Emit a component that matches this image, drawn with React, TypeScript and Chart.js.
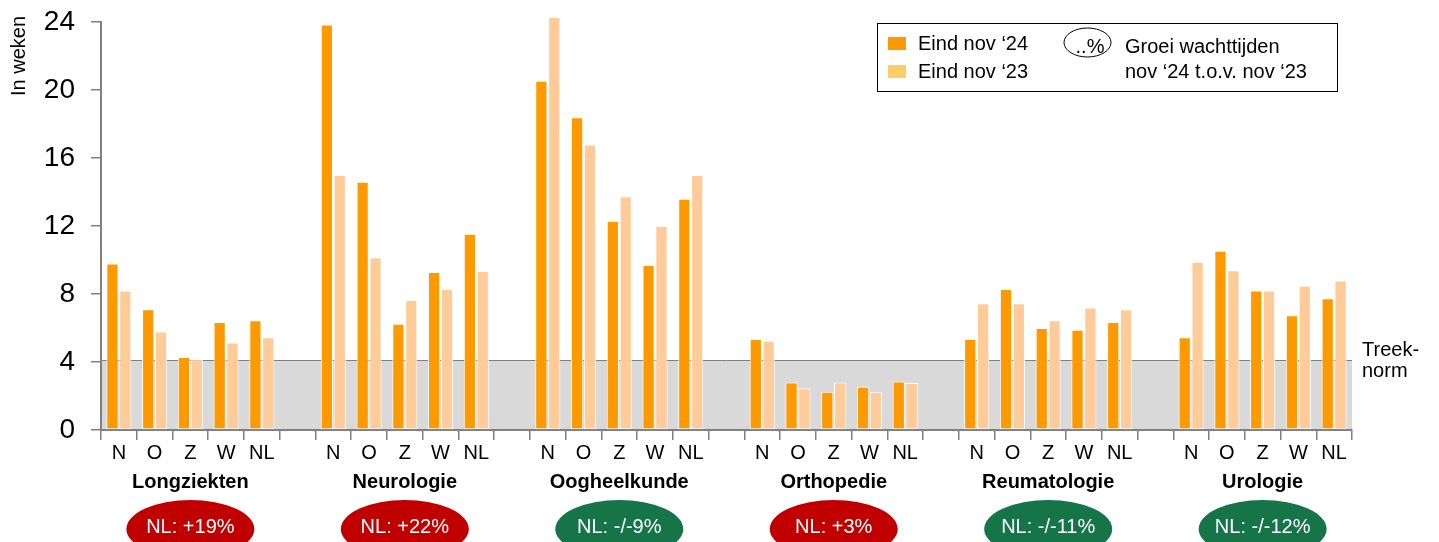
import { useEffect, useRef } from 'react';
import { Chart, registerables } from 'chart.js';

Chart.register(...registerables);

const specialties = ['Longziekten', 'Neurologie', 'Oogheelkunde', 'Orthopedie', 'Reumatologie', 'Urologie'];
const regions = ['N', 'O', 'Z', 'W', 'NL'];
const nov24Values = [
  9.8, 7.1, 4.3, 6.35, 6.45,
  23.85, 14.6, 6.25, 9.3, 11.55,
  20.55, 18.4, 12.3, 9.7, 13.6,
  5.35, 2.8, 2.25, 2.55, 2.85,
  5.35, 8.3, 6.0, 5.9, 6.35,
  5.45, 10.55, 8.2, 6.75, 7.75,
];
const nov23Values = [
  8.2, 5.8, 4.15, 5.15, 5.45,
  15.0, 10.15, 7.65, 8.3, 9.35,
  24.3, 16.8, 13.75, 12.0, 15.0,
  5.25, 2.45, 2.8, 2.25, 2.77,
  7.45, 7.45, 6.45, 7.2, 7.1,
  9.9, 9.4, 8.2, 8.5, 8.8,
];
const growthLabels = ['NL: +19%', 'NL: +22%', 'NL: -/-9%', 'NL: +3%', 'NL: -/-11%', 'NL: -/-12%'];
const treeknorm = 4.14;
const yMax = 24;
const yStep = 4;
const seriesLabels = ['Eind nov ‘24', 'Eind nov ‘23'];
const growthLegend = ['Groei wachttijden', 'nov ‘24 t.o.v. nov ‘23'];
const growthSymbol = '..%';
const yTitle = 'In weken';
const normLabel = ['Treek-', 'norm'];

const DARK = '#FF9900';
const LIGHT = '#FFCC99';
const LEGEND_LIGHT = '#FFCC66';
const RED = '#C00000';
const GREEN = '#157549';
const AXIS = '#808080';
const FONT = '"Liberation Sans", Arial, sans-serif';

const xLabels: string[] = [];
const data24: (number | null)[] = [];
const data23: (number | null)[] = [];
specialties.forEach((_, gi) => {
  regions.forEach((r, ri) => {
    xLabels.push(r);
    data24.push(nov24Values[gi * regions.length + ri]);
    data23.push(nov23Values[gi * regions.length + ri]);
  });
  if (gi < specialties.length - 1) {
    xLabels.push('');
    data24.push(null);
    data23.push(null);
  }
});

const decorPlugin = {
  id: 'decor',
  beforeDatasetsDraw(chart: any) {
    const { ctx, chartArea, scales } = chart;
    const y = scales.y;
    const top = Math.round(y.getPixelForValue(treeknorm)) + 0.5;
    const bottom = y.getPixelForValue(0);
    ctx.save();
    ctx.fillStyle = '#D9D9D9';
    ctx.fillRect(chartArea.left + 1, top, chartArea.right - chartArea.left - 1, bottom - top - 1);
    ctx.strokeStyle = AXIS;
    ctx.lineWidth = 1;
    ctx.beginPath();
    ctx.moveTo(chartArea.left, top);
    ctx.lineTo(chartArea.right, top);
    ctx.stroke();
    ctx.restore();
  },
  afterDraw(chart: any) {
    const { ctx, scales, chartArea } = chart;
    const x = scales.x;
    ctx.save();
    // y title
    ctx.fillStyle = '#000';
    ctx.font = `20px ${FONT}`;
    ctx.textAlign = 'center';
    ctx.textBaseline = 'alphabetic';
    ctx.save();
    ctx.translate(25, 56);
    ctx.rotate(-Math.PI / 2);
    ctx.fillText(yTitle, 0, 0);
    ctx.restore();

    // Treeknorm label
    ctx.textAlign = 'left';
    ctx.font = `20px ${FONT}`;
    ctx.fillText(normLabel[0], chartArea.right + 10, 356);
    ctx.fillText(normLabel[1], chartArea.right + 10, 377);

    // group labels + badges
    specialties.forEach((s, gi) => {
      const cx = x.getPixelForValue(gi * (regions.length + 1) + 2);
      ctx.fillStyle = '#000';
      ctx.font = `bold 20px ${FONT}`;
      ctx.textAlign = 'center';
      ctx.fillText(s, cx, 488);
      const lbl = growthLabels[gi];
      ctx.fillStyle = lbl.includes('+') ? RED : GREEN;
      ctx.beginPath();
      ctx.ellipse(cx, 529, 64, 29, 0, 0, Math.PI * 2);
      ctx.fill();
      ctx.fillStyle = '#fff';
      ctx.font = `20px ${FONT}`;
      ctx.fillText(lbl, cx, 533);
    });

    // legend box
    ctx.strokeStyle = '#000';
    ctx.lineWidth = 1;
    ctx.strokeRect(877.5, 23.5, 460, 68);
    ctx.fillStyle = DARK;
    ctx.fillRect(888, 37, 18, 13);
    ctx.fillStyle = LEGEND_LIGHT;
    ctx.fillRect(888, 65, 18, 13);
    ctx.fillStyle = '#000';
    ctx.textAlign = 'left';
    ctx.font = `20px ${FONT}`;
    ctx.fillText(seriesLabels[0], 918, 50);
    ctx.fillText(seriesLabels[1], 918, 78);
    ctx.beginPath();
    ctx.ellipse(1087.5, 42.5, 23.5, 14.5, 0, 0, Math.PI * 2);
    ctx.stroke();
    ctx.textAlign = 'center';
    ctx.font = `20px ${FONT}`;
    ctx.fillText(growthSymbol, 1090, 53);
    ctx.textAlign = 'left';
    ctx.font = `20px ${FONT}`;
    ctx.fillText(growthLegend[0], 1125, 53);
    ctx.fillText(growthLegend[1], 1125, 78);
    ctx.restore();
  },
};

export default function App() {
  const ref = useRef<HTMLCanvasElement | null>(null);
  useEffect(() => {
    if (!ref.current) return;
    const chart = new Chart(ref.current, {
      type: 'bar',
      data: {
        labels: xLabels,
        datasets: [
          {
            label: seriesLabels[0],
            data: data24,
            backgroundColor: DARK,
            borderColor: '#FFFFFF',
            borderWidth: 1,
            borderSkipped: false,
            categoryPercentage: 0.72,
            barPercentage: 0.95,
            clip: false,
          },
          {
            label: seriesLabels[1],
            data: data23,
            backgroundColor: LIGHT,
            borderColor: '#FFFFFF',
            borderWidth: 1,
            borderSkipped: false,
            categoryPercentage: 0.72,
            barPercentage: 0.95,
            clip: false,
          },
        ],
      },
      options: {
        responsive: false,
        animation: false,
        layout: { padding: { left: 0, right: 87, top: 22, bottom: 0 } },
        plugins: {
          legend: { display: false },
          tooltip: { enabled: false },
        },
        scales: {
          x: {
            type: 'category',
            offset: true,
            grid: {
              offset: true,
              drawOnChartArea: false,
              drawTicks: true,
              tickLength: 10,
              color: AXIS,
              lineWidth: 1.5,
            },
            border: { color: AXIS, width: 2 },
            ticks: {
              autoSkip: false,
              maxRotation: 0,
              minRotation: 0,
              padding: 1,
              color: '#000',
              font: { family: FONT, size: 20 },
            },
            afterFit: (s: any) => {
              s.height = 112;
              s.paddingLeft = 0;
              s.paddingRight = 0;
            },
          },
          y: {
            min: 0,
            max: yMax,
            grid: {
              drawOnChartArea: false,
              drawTicks: true,
              tickLength: 10,
              color: AXIS,
              lineWidth: 1.5,
            },
            border: { color: AXIS, width: 2 },
            ticks: {
              stepSize: yStep,
              padding: 16,
              color: '#000',
              font: { family: FONT, size: 28 },
            },
            afterFit: (s: any) => {
              s.width = 101;
              s.paddingTop = 0;
              s.paddingBottom = 0;
            },
          },
        },
      },
      plugins: [decorPlugin],
    });
    return () => chart.destroy();
  }, []);
  return (
    <div style={{ position: 'fixed', left: 0, top: 0, width: 1439, height: 542, background: '#fff' }}>
      <canvas ref={ref} width={1439} height={542} style={{ display: 'block' }} />
    </div>
  );
}
